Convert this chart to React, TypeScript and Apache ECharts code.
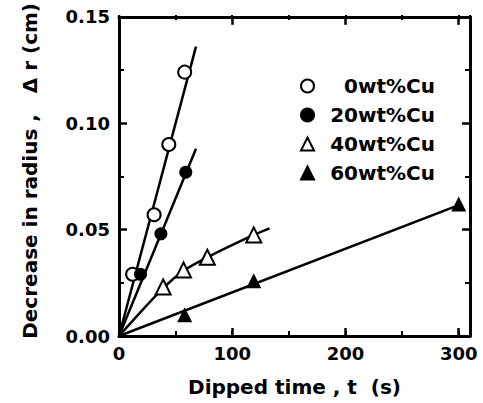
import React, { useEffect, useRef } from "react";
import * as echarts from "echarts";

const seriesNames = ["0wt%Cu", "20wt%Cu", "40wt%Cu", "60wt%Cu"];
const cu0 = [[12, 0.029], [31, 0.057], [44, 0.09], [58, 0.124]];
const cu20 = [[19, 0.029], [37, 0.048], [59, 0.077]];
const cu40 = [[39, 0.023], [57, 0.031], [78, 0.037], [119, 0.0475]];
const cu60 = [[58, 0.01], [119, 0.026], [300, 0.062]];
const fit0 = [[0, 0], [68, 0.136]];
const fit20 = [[0, 0], [68, 0.088]];
const fit40 = [[0, 0], [39, 0.0225], [58, 0.031], [78, 0.037], [119, 0.0475], [133, 0.0506]];
const fit60 = [[0, 0], [300, 0.0615]];
const xMax = 310;
const yMax = 0.15;

const FONT = "DejaVu Sans";
const BLACK = "#000";

export default function App() {
  const ref = useRef<HTMLDivElement>(null);
  useEffect(() => {
    if (!ref.current) return;
    const chart = echarts.init(ref.current, null, { renderer: "svg" });
    const gridPos = { left: 119, right: 13, top: 15, bottom: 67 };
    const lineAxis = { show: true, onZero: false, lineStyle: { color: BLACK, width: 3 } };
    const majorTick = { show: true, inside: true, length: 8, lineStyle: { color: BLACK, width: 2.5 } };
    const minorTickX = { show: true, inside: true, length: 5, lineStyle: { color: BLACK, width: 2 } };
    const labelStyle = { fontFamily: FONT, fontWeight: "bold", fontSize: 18, color: BLACK };
    const fitLine = (data: number[][], smooth: boolean | number = false) => ({
      type: "line",
      data,
      showSymbol: false,
      symbol: "none",
      smooth,
      lineStyle: { color: BLACK, width: 2.5 },
      z: 1,
      silent: true,
    });
    const scatter = (name: string, data: number[][], symbol: string, size: number) => ({
      type: "scatter",
      name,
      data,
      symbol,
      symbolSize: size,
      itemStyle: {
        color: BLACK,
        borderColor: BLACK,
        borderWidth: symbol.startsWith("empty") ? 2 : 0,
        opacity: 1,
      },
      z: 3,
    });
    chart.setOption({
      animation: false,
      backgroundColor: "#fff",
      grid: [{ ...gridPos }, { ...gridPos }],
      legend: {
        data: seriesNames,
        orient: "vertical",
        left: 300,
        top: 76,
        padding: 0,
        itemGap: 9,
        itemWidth: 13,
        itemHeight: 13,
        itemStyle: { borderWidth: 2, opacity: 1 },
        formatter: "{r|{name}}",
        textStyle: {
          fontFamily: FONT,
          fontWeight: "bold",
          fontSize: 20,
          color: BLACK,
          rich: { r: { width: 116, align: "right", fontFamily: FONT, fontWeight: "bold", fontSize: 20, color: BLACK } },
        },
      },
      xAxis: [
        {
          type: "value",
          gridIndex: 0,
          position: "bottom",
          min: 0,
          max: xMax,
          interval: 100,
          axisLine: lineAxis,
          axisTick: majorTick,
          splitLine: { show: false },
          axisLabel: {
            ...labelStyle,
            margin: 8,
            formatter: (v: number) => (v % 100 === 0 ? String(v) : ""),
          },
          name: "Dipped time , t  (s)",
          nameLocation: "middle",
          nameGap: 41,
          nameTextStyle: { fontFamily: FONT, fontWeight: "bold", fontSize: 20, color: BLACK },
        },
        {
          type: "value",
          gridIndex: 0,
          position: "top",
          min: 0,
          max: xMax,
          interval: 100,
          axisLine: lineAxis,
          axisTick: majorTick,
          splitLine: { show: false },
          axisLabel: { show: false },
        },
        {
          type: "value",
          gridIndex: 1,
          position: "bottom",
          min: 0,
          max: xMax,
          interval: 50,
          axisLine: { show: false, onZero: false },
          axisTick: minorTickX,
          splitLine: { show: false },
          axisLabel: { show: false },
        },
        {
          type: "value",
          gridIndex: 1,
          position: "top",
          min: 0,
          max: xMax,
          interval: 50,
          axisLine: { show: false, onZero: false },
          axisTick: minorTickX,
          splitLine: { show: false },
          axisLabel: { show: false },
        },
      ],
      yAxis: [
        {
          type: "value",
          gridIndex: 0,
          position: "left",
          min: 0,
          max: yMax,
          interval: 0.05,
          axisLine: lineAxis,
          axisTick: majorTick,
          minorTick: { show: true, splitNumber: 2, length: 5, lineStyle: { color: BLACK, width: 2 } },
          splitLine: { show: false },
          minorSplitLine: { show: false },
          axisLabel: { ...labelStyle, margin: 9, formatter: (v: number) => v.toFixed(2) },
          name: "Decrease in radius ,   Δ r (cm)",
          nameLocation: "middle",
          nameGap: 79,
          nameTextStyle: { fontFamily: FONT, fontWeight: "bold", fontSize: 20, color: BLACK, padding: [0, 0, 0, 11] },
        },
        {
          type: "value",
          gridIndex: 0,
          position: "right",
          min: 0,
          max: yMax,
          interval: 0.05,
          axisLine: lineAxis,
          axisTick: majorTick,
          minorTick: { show: true, splitNumber: 2, length: 5, lineStyle: { color: BLACK, width: 2 } },
          splitLine: { show: false },
          minorSplitLine: { show: false },
          axisLabel: { show: false },
        },
        {
          type: "value",
          gridIndex: 1,
          min: 0,
          max: yMax,
          show: false,
        },
      ],
      series: [
        fitLine(fit0),
        fitLine(fit20),
        fitLine(fit40, 0.3),
        fitLine(fit60),
        scatter(seriesNames[0], cu0, "emptyCircle", 13),
        scatter(seriesNames[1], cu20, "circle", 13),
        scatter(seriesNames[2], cu40, "emptyTriangle", 15),
        scatter(seriesNames[3], cu60, "triangle", 15),
      ],
    });
    return () => chart.dispose();
  }, []);
  return <div ref={ref} style={{ width: 483, height: 403, position: "absolute", left: 0, top: 0 }} />;
}
